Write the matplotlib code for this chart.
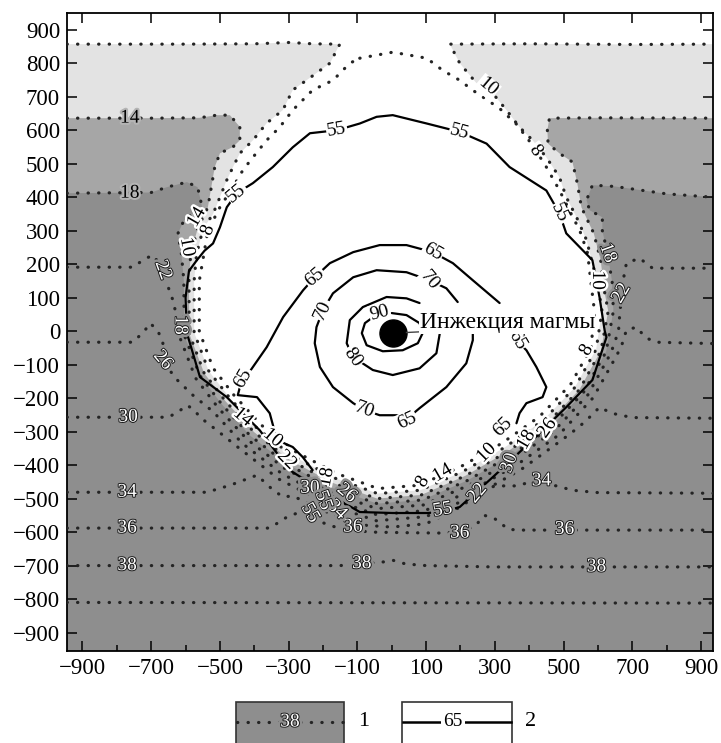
import matplotlib
matplotlib.use("Agg")
import matplotlib.pyplot as plt
import matplotlib.patheffects as pe
from matplotlib.patches import Rectangle
from matplotlib.lines import Line2D

plt.rcParams['font.family'] = ['Liberation Serif', 'DejaVu Serif']

# ---- isolines (x, y) ----
# dotted lines (1)
iso08 = [(-93, 815), (3, 833), (102, 815), (148, 779), (198, 749), (235, 720), (314, 665),
         (363, 618), (410, 555), (450, 490), (488, 421), (517, 361), (547, 301), (570, 233),
         (580, 143), (590, 60), (580, -50), (520, -160), (430, -255), (320, -335), (200, -405),
         (80, -460), (-40, -470), (-160, -425), (-280, -360), (-380, -280), (-460, -190),
         (-520, -110), (-560, 0), (-560, 150), (-535, 300), (-500, 370), (-462, 430),
         (-433, 481), (-404, 519), (-364, 570), (-326, 609), (-288, 660), (-230, 720),
         (-171, 749), (-122, 800), (-93, 815)]

iso10 = [(-945, 857), (-600, 857), (-400, 858), (-297, 862), (-230, 858), (-151, 857),
         (-180, 800), (-240, 755), (-288, 720), (-317, 660), (-364, 621), (-404, 570),
         (-442, 531), (-462, 490), (-480, 451), (-500, 400), (-520, 350), (-549, 305),
         (-568, 230), (-575, 151), (-575, -4), (-533, -118), (-471, -200), (-391, -291),
         (-288, -373), (-165, -439), (-41, -485), (83, -475), (207, -419), (329, -347),
         (441, -266), (533, -168), (595, -54), (612, 60), (600, 140), (584, 203), (567, 272),
         (538, 340), (508, 400), (488, 460), (450, 519), (410, 570), (372, 609), (334, 660),
         (279, 729), (247, 740), (198, 800), (169, 857), (400, 858), (700, 856), (935, 857)]

iso14 = [(-945, 636), (-700, 636), (-560, 637), (-509, 645), (-471, 645), (-442, 610),
         (-442, 570), (-462, 550), (-500, 531), (-515, 490), (-525, 430), (-535, 370),
         (-564, 309), (-585, 230), (-590, 152), (-589, -8), (-546, -125), (-483, -210),
         (-401, -301), (-295, -386), (-169, -454), (-42, -500), (86, -489), (214, -432),
         (338, -359), (452, -276), (546, -175), (609, -58), (630, 60), (620, 113), (608, 212),
         (588, 292), (552, 370), (540, 442), (526, 505), (488, 531), (455, 560), (453, 600),
         (459, 636), (600, 637), (935, 636)]

iso18 = [(-945, 412), (-700, 414), (-654, 430), (-596, 445), (-565, 430), (-558, 400),
         (-552, 370), (-578, 352), (-605, 330), (-622, 292), (-612, 230), (-605, 152),
         (-604, -11), (-558, -133), (-494, -219), (-412, -312), (-303, -398), (-174, -468),
         (-42, -515), (89, -504), (220, -446), (347, -371), (462, -287), (558, -183),
         (624, -61), (645, 60), (642, 143), (628, 233), (613, 300), (613, 340), (576, 361),
         (567, 391), (584, 436), (650, 432), (800, 410), (935, 400)]

iso22 = [(-945, 191), (-753, 191), (-720, 215), (-695, 227), (-675, 200), (-666, 173),
         (-650, 130), (-637, 93), (-625, 40), (-618, -15), (-571, -140), (-505, -229),
         (-422, -322), (-310, -411), (-178, -482), (-43, -530), (92, -519), (227, -459),
         (356, -383), (473, -297), (571, -190), (638, -65), (660, 0), (663, 42), (672, 143),
         (683, 203), (721, 218), (759, 188), (935, 188)]

iso26 = [(-945, -33), (-753, -33), (-720, 0), (-703, 24), (-680, 0), (-666, -36), (-666, -87),
         (-630, -140), (-580, -190), (-519, -241), (-435, -335), (-319, -426), (-183, -499),
         (-44, -548), (96, -536), (235, -475), (367, -397), (486, -310), (586, -199),
         (656, -70), (670, -40), (683, 3), (712, 12), (740, -20), (770, -33), (935, -37)]

iso30 = [(-945, -257), (-650, -257), (-620, -240), (-596, -221), (-575, -235), (-558, -257),
         (-509, -296), (-447, -347), (-328, -442), (-189, -516), (-45, -566), (99, -554),
         (243, -491), (378, -412), (499, -322), (540, -290), (567, -266), (605, -227),
         (640, -245), (700, -258), (935, -260)]

iso34 = [(-945, -481), (-538, -481), (-470, -460), (-392, -430), (-350, -470), (-317, -495),
         (-288, -492), (-200, -535), (-100, -578), (0, -585), (100, -575), (200, -525),
         (260, -480), (300, -462), (360, -462), (400, -452), (480, -462), (526, -475),
         (600, -482), (935, -484)]

iso36 = [(-945, -588), (-355, -588), (-305, -555), (-267, -540), (-220, -565), (-150, -590),
         (-60, -600), (60, -602), (160, -603), (240, -585), (270, -550), (300, -560),
         (340, -592), (380, -594), (935, -594)]

iso38 = [(-945, -700), (-150, -700), (-87, -694), (-30, -690), (3, -684), (40, -695),
         (100, -700), (300, -704), (935, -704)]

iso40 = [(-945, -810), (935, -812)]

# solid lines (2)
sol55 = [(-567, 212), (-545, 240), (-520, 262), (-500, 310), (-480, 370), (-451, 412),
         (-404, 442), (-346, 490), (-288, 549), (-238, 591), (-160, 600), (-93, 620),
         (-44, 640), (3, 645), (102, 620), (198, 595), (276, 560), (343, 490), (450, 420),
         (488, 352), (508, 292), (584, 212), (605, 100), (620, 0), (625, -18), (584, -146),
         (508, -227), (410, -325), (294, -436), (198, -525), (148, -540), (102, -543),
         (3, -543), (-93, -540), (-218, -466), (-297, -415), (-384, -296), (-480, -197),
         (-558, -137), (-596, -6), (-600, 100), (-590, 180), (-567, 212)]

sol65_a = [(-230, -415), (-259, -376), (-288, -346), (-334, -325), (-355, -245), (-392, -197),
           (-448, -191), (-440, -160), (-404, -107), (-364, -48), (-316, 42), (-258, 122),
           (-224, 161), (-180, 203), (-112, 236), (-35, 257), (43, 257), (119, 236),
           (178, 203), (236, 152), (314, 84)]
sol65_b = [(355, -10), (363, -27), (392, -57), (421, -107), (450, -167), (439, -197),
           (392, -215), (372, -245), (363, -275)]

sol70 = [(192, 87), (159, 128), (110, 152), (43, 176), (-44, 182), (-112, 161), (-171, 113),
         (-200, 63), (-219, 12), (-224, -36), (-209, -107), (-171, -167), (-112, -215),
         (-78, -236), (-35, -251), (14, -251), (44, -262), (81, -230), (159, -167),
         (217, -96), (236, -27), (236, -3)]

sol80 = [(81, 84), (43, 98), (-15, 102), (-84, 72), (-122, 33), (-131, -36), (-113, -77),
         (-55, -116), (3, -131), (81, -111), (130, -66), (140, -6)]

sol90 = [(0, 54), (43, 48), (81, 24), (90, -6), (76, -36), (32, -57), (-26, -60), (-73, -42),
         (-87, -6), (-78, 24), (-58, 39)]

injection = (3, -4)

# labels: text, x, y, rotation, style
dotted_labels = [
    ("14", -762, 636, 0, 'k'), ("18", -762, 412, 0, 'k'), ("30", -767, -257, 0, 'g'),
    ("34", -770, -481, 0, 'g'), ("36", -770, -588, 0, 'g'), ("38", -770, -700, 0, 'g'),
    ("38", -87, -694, 0, 'g'), ("36", 503, -592, 0, 'g'), ("38", 596, -704, 0, 'g'),
    ("34", 436, -447, 0, 'g'), ("36", 198, -603, 0, 'g'), ("36", -113, -585, 0, 'g'),
    ("10", 279, 729, -40, 'w'), ("8", 416, 540, -55, 'w'),
    ("14", -567, 340, 60, 'b'), ("8", -535, 301, 70, 'b'), ("10", -596, 251, -80, 'b'),
    ("22", -666, 182, -70, 'g'), ("18", -616, 18, -90, 'g'), ("26", -666, -87, -50, 'g'),
    ("18", 628, 233, -70, 'g'), ("10", 599, 152, -90, 'b'), ("22", 669, 113, 60, 'g'),
    ("8", 567, -57, 60, 'b'),
    ("14", -433, -257, -40, 'b'), ("10", -346, -319, -40, 'b'), ("22", -305, -385, -45, 'b'),
    ("18", -189, -436, 80, 'b'), ("30", -238, -469, 0, 'g'), ("26", -131, -484, -40, 'g'),
    ("34", -160, -534, -45, 'g'),
    ("8", 90, -450, 60, 'b'), ("14", 148, -424, 30, 'b'), ("10", 276, -364, 45, 'b'),
    ("18", 392, -325, 60, 'b'), ("26", 453, -290, 55, 'b'), ("30", 343, -394, 70, 'g'),
    ("22", 250, -484, 50, 'g'),
]

solid_labels = [
    ("55", -451, 412, 40, 'w'), ("55", -160, 600, 10, 'w'), ("55", 198, 595, -15, 'w'),
    ("55", 488, 352, -65, 'w'), ("55", -200, -505, -70, 'g'), ("55", -238, -543, -60, 'g'),
    ("55", 148, -534, 10, 'g'),
    ("65", -224, 161, 40, 'w'), ("65", 119, 236, -30, 'w'), ("65", 363, -27, -60, 'w'),
    ("65", 323, -287, 45, 'w'), ("65", -433, -140, 60, 'w'), ("65", 44, -268, 25, 'w'),
    ("70", -200, 63, 65, 'w'), ("70", 110, 152, -50, 'w'), ("70", -78, -236, -20, 'w'),
    ("80", -113, -77, -55, 'w'), ("90", -35, 54, 15, 'w'),
]

x_ticks = list(range(-900, 901, 200))
x_minor = list(range(-900, 901, 100))
y_ticks = list(range(-900, 901, 100))

LIGHT = '#e3e3e3'
MEDIUM = '#a6a6a6'
DARK = '#8e8e8e'
DOT = '#242424'
XL, XR, YB, YT = -945, 935, -955, 950
LBL = 14


def xy(pairs):
    return [p[0] for p in pairs], [p[1] for p in pairs]


def dotted(ax, pairs, **kw):
    x, y = xy(pairs)
    ax.plot(x, y, color=DOT, lw=2.3, linestyle=(0, (0.1, 3.2)),
            dash_capstyle='round', zorder=3, **kw)


def solid(ax, pairs):
    x, y = xy(pairs)
    ax.plot(x, y, color='black', lw=1.6, zorder=4, solid_capstyle='round')


def label(ax, txt, x, y, rot, style, size=LBL):
    kw = dict(rotation=rot, ha='center', va='center', fontsize=size, zorder=6,
              rotation_mode='anchor')
    if style == 'w':
        ax.text(x, y, txt, color='black',
                bbox=dict(boxstyle='square,pad=0.05', fc='white', ec='none'), **kw)
    elif style == 'b':
        ax.text(x, y, txt, color='black',
                path_effects=[pe.withStroke(linewidth=3.5, foreground='white')], **kw)
    elif style == 'k':
        ax.text(x, y, txt, color='black',
                path_effects=[pe.withStroke(linewidth=3, foreground='#b4b4b4')], **kw)
    else:
        ax.text(x, y, txt, color='white',
                path_effects=[pe.Stroke(linewidth=5, foreground=DARK),
                              pe.Stroke(linewidth=1.4, foreground='#1a1a1a'),
                              pe.Normal()], **kw)


fig = plt.figure(figsize=(7.21, 7.43), dpi=100)
ax = fig.add_axes([67 / 721, 1 - 651 / 743, (713 - 67) / 721, (651 - 13) / 743])
ax.set_xlim(XL, XR)
ax.set_ylim(YB, YT)
ax.set_facecolor('white')

# gray layers filled below the U-shaped isolines
for pairs, col in [(iso10, LIGHT), (iso14, MEDIUM), (iso18, DARK)]:
    x, y = xy(pairs)
    ax.fill(x + [XR, XL], y + [YB - 10, YB - 10], fc=col, ec='none', zorder=1)

for pairs in [iso08, iso10, iso14, iso18, iso22, iso26, iso30, iso34, iso36, iso38, iso40]:
    dotted(ax, pairs)

for pairs in [sol55, sol65_a, sol65_b, sol70, sol80, sol90]:
    solid(ax, pairs)

for txt, x, y, rot, st in dotted_labels + solid_labels:
    label(ax, txt, x, y, rot, st)

# magma injection point
ax.scatter([injection[0]], [injection[1]], s=380, color='black', zorder=7)
ax.plot([injection[0] + 40, 82], [injection[1], -2], color='#444444', lw=1, zorder=7)
ax.text(81, 9, "Инжекция магмы", fontsize=17, ha='left', va='baseline', zorder=8,
        bbox=dict(boxstyle='square,pad=0.02', fc='white', ec='none'))

ax.set_xticks(x_ticks)
ax.set_xticks(x_minor, minor=True)
ax.set_yticks(y_ticks)
ax.tick_params(which='both', direction='in', top=True, right=True, labelsize=16.5,
               width=1.1, color='black')
ax.tick_params(which='major', length=7, pad=5)
ax.tick_params(which='minor', length=4)
ax.tick_params(axis='x', which='minor', top=False)
for s in ax.spines.values():
    s.set_linewidth(1.3)

# legend boxes below the plot
ly = 1 - 722 / 743
btop = 1 - 702 / 743
fig.add_artist(Rectangle((236 / 721, -0.02), 108 / 721, btop + 0.02,
                         transform=fig.transFigure, fc=DARK, ec='#333333', lw=1.2))
fig.add_artist(Line2D([237 / 721, 343 / 721], [ly, ly], transform=fig.transFigure,
                      color=DOT, lw=2.3, linestyle=(0, (0.1, 3.2)), dash_capstyle='round'))
fig.text(290 / 721, ly, "38", ha='center', va='center', fontsize=LBL, color='white',
         path_effects=[pe.Stroke(linewidth=5, foreground=DARK),
                       pe.Stroke(linewidth=1.4, foreground='#1a1a1a'), pe.Normal()])
fig.text(364 / 721, ly, "1", ha='center', va='center', fontsize=16)

fig.add_artist(Rectangle((402 / 721, -0.02), 110 / 721, btop + 0.02,
                         transform=fig.transFigure, fc='white', ec='#333333', lw=1.2))
fig.add_artist(Line2D([403 / 721, 511 / 721], [ly, ly], transform=fig.transFigure,
                      color='black', lw=1.8))
fig.text(453 / 721, ly, "65", ha='center', va='center', fontsize=LBL,
         bbox=dict(boxstyle='square,pad=0.1', fc='white', ec='none'))
fig.text(531 / 721, ly, "2", ha='center', va='center', fontsize=16)

fig.savefig("out.png", dpi=100)
